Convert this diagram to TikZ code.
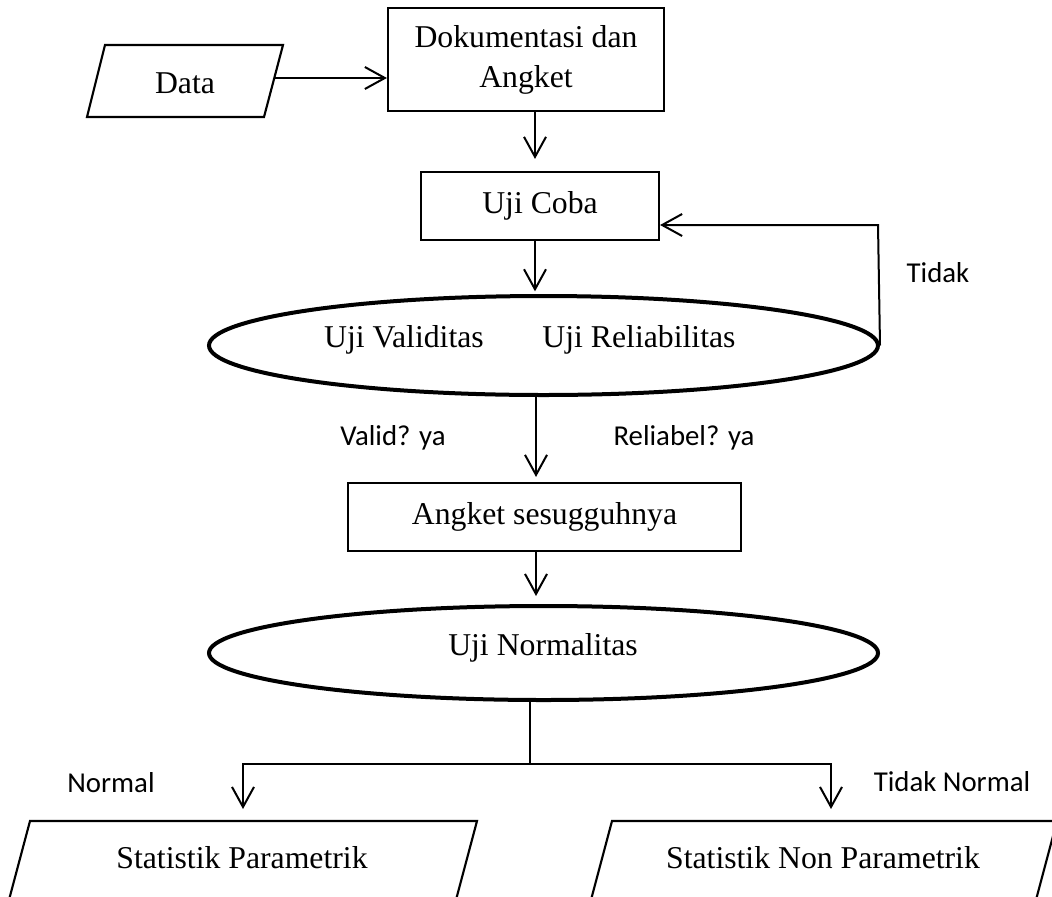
\documentclass[tikz,border=0pt]{standalone}
\usepackage{fontspec}
\setmainfont{Liberation Serif}
\newfontfamily\calibri{Carlito}
\usetikzlibrary{arrows.meta,shapes.geometric}

\begin{document}
\begin{tikzpicture}[x=0.75pt,y=-0.75pt,
 box/.style={draw, line width=1.6pt, rectangle, inner sep=0pt, font=\fontsize{23.8}{30}\selectfont},
 oval/.style={draw, ellipse, line width=3pt, inner sep=0pt},
 txt/.style={inner sep=0pt, font=\fontsize{23.8}{30}\selectfont},
 lbl/.style={inner sep=0pt, font=\calibri\fontsize{21.6}{26}\selectfont},
 arr/.style={line width=1.5pt, -{Straight Barb[length=15pt,width=16.5pt,line width=1.5pt]}},
 ln/.style={line width=1.5pt},
 para/.style={line width=1.6pt, line join=miter}]

\useasboundingbox (0,0) rectangle (1052,896);
\clip (0,0) rectangle (1052,896);

% column coordinates
\coordinate (c1) at (535,0);
\coordinate (c2) at (536,0);

% Data
\draw[para] (105,45) -- (283,45) -- (264,117) -- (87,117) -- cycle;
\node[txt] (data) at (185,83) {Data};
\coordinate (dout) at (274,78);

% boxes
\node[box, minimum width=207pt, minimum height=77.25pt, align=center] (dok) at (526,59.5) {Dokumentasi dan\\Angket};
\node[box, minimum width=178.5pt, minimum height=51pt] (uji) at (540,206) {Uji Coba};
\node[oval, minimum width=501.75pt, minimum height=74.25pt] (val) at (543.5,345.5) {};
\node[txt] (tval) at (404,340) {Uji Validitas};
\node[txt] (trel) at (639,340) {Uji Reliabilitas};
\node[box, minimum width=294.75pt, minimum height=51pt] (ang) at (544.5,517) {Angket sesugguhnya};
\node[oval, minimum width=501.75pt, minimum height=70.5pt] (nor) at (543.5,653) {};
\node[txt] (tnor) at (543,648) {Uji Normalitas};

% connectors
\draw[arr] (dout) -- (dout -| dok.west);
\draw[arr, shorten >=9pt] (dok.south -| c1) -- (uji.north -| c1);
\draw[arr, shorten >=2pt] (uji.south -| c1) -- (val.north -| c1);
\draw[arr, shorten >=3.75pt] (val.south -| c2) -- (ang.north -| c2);
\draw[arr, shorten >=6pt] (ang.south -| c2) -- (nor.north -| c2);

\coordinate (lp) at (878,225);
\draw[arr] (val.east) -- (lp) -- (lp -| uji.east);
\node[lbl] (tidak) at (938,273) {Tidak};

\node[lbl] (valid) at (393,438) {Valid? ya};
\node[lbl] (reli) at (684,438) {Reliabel? ya};

% branches
\coordinate (br) at (530,764);
\coordinate (tl) at (243,809);
\coordinate (tr) at (831,809);
\draw[arr] (nor.south -| br) -- (br) -| (tl);
\draw[arr] (br) -| (tr);
\node[lbl] (normal) at (111,783) {Normal};
\node[lbl] (tnormal) at (952,782) {Tidak Normal};

% output parallelograms
\draw[para] (0.7,931) -- (30,821) -- (477,821) -- (447.7,931) -- cycle;
\draw[para] (582.7,931) -- (612,821) -- (1057,821) -- (1027.7,931) -- cycle;
\node[txt] (sp) at (242,858) {Statistik Parametrik};
\node[txt] (snp) at (823,858) {Statistik Non Parametrik};
\end{tikzpicture}
\end{document}
